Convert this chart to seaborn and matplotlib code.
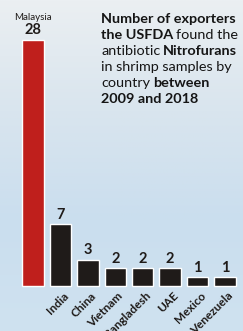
import matplotlib.pyplot as plt
import numpy as np
import pandas as pd
import seaborn as sns
from matplotlib.colors import LinearSegmentedColormap

COUNTRIES = ["Malaysia", "India", "China", "Vietnam", "Bangladesh", "UAE", "Mexico", "Venezuela"]
EXPORTERS = [28, 7, 3, 2, 2, 2, 1, 1]

TITLE_LINES = [
    [("Number of exporters", "bold")],
    [("the USFDA", "bold"), ("found the", "normal")],
    [("antibiotic", "normal"), ("Nitrofurans", "bold")],
    [("in shrimp samples by", "normal")],
    [("country", "normal"), ("between", "bold")],
    [("2009 and 2018", "bold")],
]

RED = "#bf1f1c"
DARK = "#1f1b19"
W, H = 243, 331

sns.set_theme(style="white")
plt.rcParams["font.family"] = ["Lato", "DejaVu Sans"]

fig = plt.figure(figsize=(W / 100, H / 100), dpi=100)
ax = fig.add_axes([0, 0, 1, 1])

# paper-ish background: whiter at the top, light blue lower down
bg = LinearSegmentedColormap.from_list("bg", ["#ebeff2", "#d9e5ee", "#cadeee", "#cfe2f0"])
grad = np.linspace(0, 1, 256).reshape(-1, 1)
ax.imshow(grad, cmap=bg, aspect="auto", extent=[-1.203, 7.656, -5.11, 32.5],
          origin="upper", zorder=0)

df = pd.DataFrame({"country": COUNTRIES, "n": EXPORTERS})
sns.barplot(data=df, x="country", y="n", hue="country", legend=False,
            palette=[RED] + [DARK] * (len(COUNTRIES) - 1),
            width=0.78, saturation=1, ax=ax, zorder=2)

ax.set_xlim(-1.203, 7.656)
ax.set_ylim(-5.11, 32.5)
ax.set_axis_off()

# value labels
for i, (c, v) in enumerate(zip(COUNTRIES, EXPORTERS)):
    ax.text(i, v + 0.3, str(v), ha="center", va="bottom",
            fontsize=10.5, fontweight="bold", color=DARK, zorder=3)
    if i == 0:
        ax.text(i, v + 2.0, c, ha="center", va="bottom", fontsize=7,
                color=DARK, zorder=3)
    else:
        ax.text(i + 0.08, -0.45, c, rotation=45, rotation_mode="anchor",
                ha="right", va="top", fontsize=8.5, fontweight="bold",
                color=DARK, zorder=3)

# title block with mixed weights
renderer = fig.canvas.get_renderer()
fs = 10.4
x0, y0, step = 101, 23, 16
space = fs * 0.2 * 100 / 72
for k, line in enumerate(TITLE_LINES):
    x = x0
    y = y0 + k * step
    for s, wt in line:
        t = fig.text(x / W, 1 - y / H, s, fontsize=fs, fontweight=wt,
                     color="#151515", va="baseline", ha="left")
        bb = t.get_window_extent(renderer)
        x = x + bb.width + space

fig.savefig("out.png", dpi=100)
